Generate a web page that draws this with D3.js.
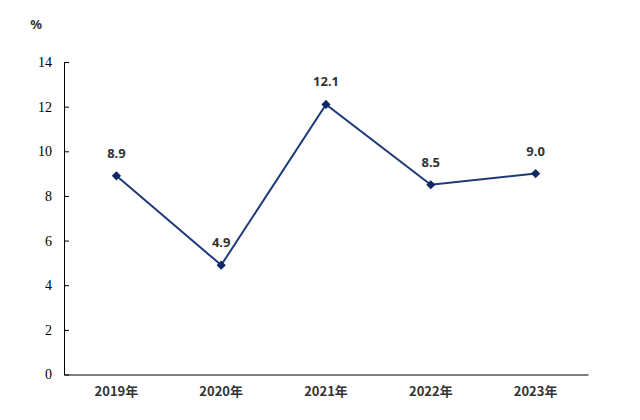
<!DOCTYPE html>
<html>
<head>
<meta charset="utf-8">
<script src="https://cdn.jsdelivr.net/npm/d3@7"></script>
<style>
  body { margin: 0; background: #fff; }
</style>
</head>
<body>
<div id="chart"></div>
<script>
var years = ["2019年", "2020年", "2021年", "2022年", "2023年"];
var growth = [8.9, 4.9, 12.1, 8.5, 9.0];
var yTicks = [0, 2, 4, 6, 8, 10, 12, 14];

var width = 640, height = 420;
var margin = { top: 62, right: 52, bottom: 45.5, left: 64 };

var svg = d3.select("#chart").append("svg")
    .attr("width", width)
    .attr("height", height);

var x = d3.scaleBand()
    .domain(years)
    .range([margin.left, width - margin.right]);

var y = d3.scaleLinear()
    .domain([0, 14])
    .range([height - margin.bottom, margin.top]);

// y axis, ticks pointing inward
var yAxis = svg.append("g")
    .attr("transform", "translate(" + margin.left + ",0)")
    .call(d3.axisRight(y).tickValues(yTicks).tickSize(5).tickSizeOuter(0).tickFormat(d3.format("d")));
yAxis.select(".domain").attr("stroke", "#000");
yAxis.selectAll(".tick line").attr("stroke", "#000");
yAxis.selectAll(".tick text")
    .attr("x", -12)
    .attr("text-anchor", "end")
    .attr("fill", "#000")
    .style("font-family", "'Liberation Serif', serif")
    .style("font-size", "14px");

// x axis line only
var xAxis = svg.append("g")
    .attr("transform", "translate(0," + y(0) + ")")
    .call(d3.axisBottom(x).tickSize(0).tickSizeOuter(0));
xAxis.select(".domain").attr("stroke", "#000");
xAxis.selectAll(".tick text")
    .attr("dy", "1.45em")
    .attr("fill", "#333")
    .style("font-family", "'Noto Sans CJK SC', sans-serif")
    .style("font-weight", "bold")
    .style("font-size", "13px");

// unit
svg.append("text")
    .attr("x", 36)
    .attr("y", 29)
    .attr("text-anchor", "middle")
    .attr("fill", "#333")
    .style("font-family", "'Noto Sans', sans-serif")
    .style("font-weight", "bold")
    .style("font-size", "13px")
    .text("%");

var cx = function (d, i) { return x(years[i]) + x.bandwidth() / 2; };

var line = d3.line()
    .x(function (d, i) { return cx(d, i); })
    .y(function (d) { return y(d); });

svg.append("path")
    .datum(growth)
    .attr("d", line)
    .attr("fill", "none")
    .attr("stroke", "#1f3a78")
    .attr("stroke-width", 2);

// square diamond markers
svg.selectAll(".marker")
    .data(growth)
    .enter().append("path")
    .attr("class", "marker")
    .attr("d", d3.symbol().type(d3.symbolSquare).size(42))
    .attr("transform", function (d, i) { return "translate(" + cx(d, i) + "," + y(d) + ") rotate(45)"; })
    .attr("fill", "#0d2a66");

svg.selectAll(".val")
    .data(growth)
    .enter().append("text")
    .attr("class", "val")
    .attr("x", function (d, i) { return cx(d, i); })
    .attr("y", function (d) { return y(d) - 18; })
    .attr("text-anchor", "middle")
    .attr("fill", "#333")
    .style("font-family", "'Noto Sans', sans-serif")
    .style("font-weight", "bold")
    .style("font-size", "13px")
    .text(function (d) { return d.toFixed(1); });
</script>
</body>
</html>
